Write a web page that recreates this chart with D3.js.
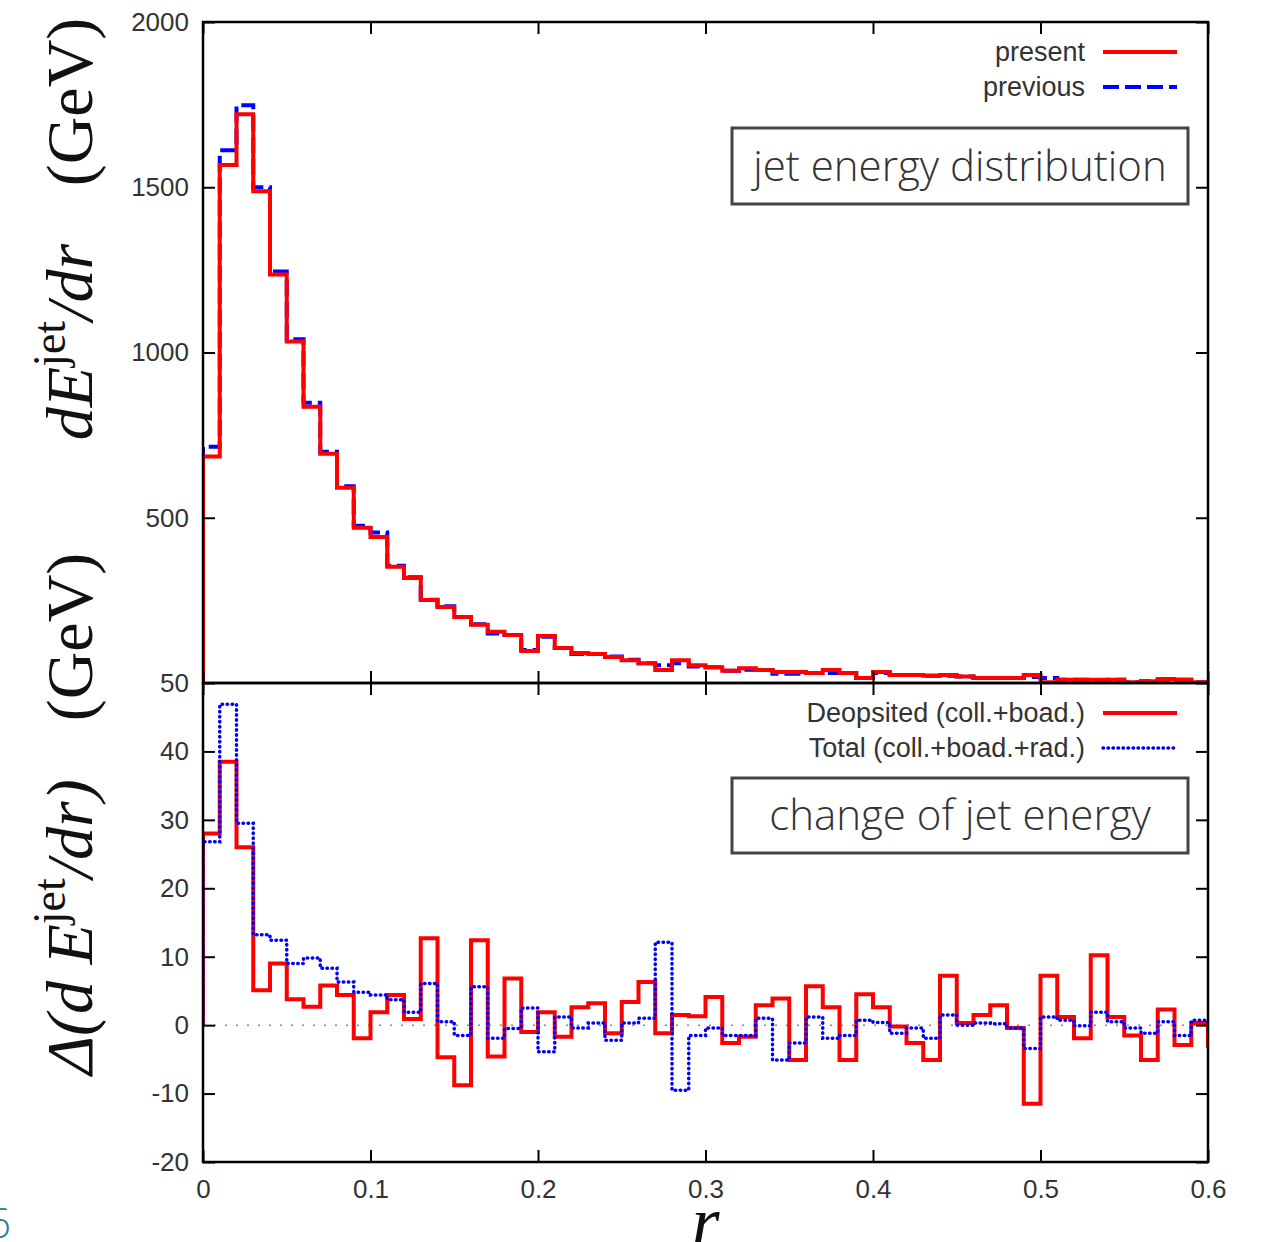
<!DOCTYPE html>
<html>
<head>
<meta charset="utf-8">
<script src="https://cdn.jsdelivr.net/npm/d3@7"></script>
<style>
  body { margin: 0; background: #fff; }
  .tick text { font-family: "Liberation Sans", Arial, sans-serif; font-size: 26px; fill: #333; }
  .tick line { stroke: #000; stroke-width: 2; }
</style>
</head>
<body>
<svg id="chart"></svg>
<script>
// bin width in r, histogram starts at r = 0 (last value lies just past 0.6 and is clipped)
const binWidth = 0.01;

// upper panel: dE^jet/dr (GeV)
const present = [685, 1567, 1721, 1488, 1236, 1033, 836, 694, 591, 470,
  442, 352, 318, 251, 230, 200, 176, 155, 145, 97,
  142, 106, 91, 88, 79, 69, 60, 39, 69, 54,
  48, 37, 45, 39, 33, 33, 30, 39, 30, 15,
  33, 24, 24, 22, 24, 20, 15, 15, 15, 24,
  2, 10, 10, 10, 10, 2, 5, 12, 10, 2, 2];
const previous = [715, 1612, 1748, 1500, 1245, 1040, 848, 700, 595, 476,
  455, 355, 320, 252, 232, 200, 178, 150, 145, 100,
  140, 106, 88, 88, 80, 70, 60, 54, 60, 50,
  48, 37, 40, 39, 28, 28, 30, 30, 30, 15,
  30, 24, 24, 22, 22, 20, 15, 15, 15, 18,
  15, 10, 10, 8, 10, 2, 5, 10, 10, 2, 2];

// lower panel: change of dE^jet/dr (GeV)
const deposited = [28.0, 38.5, 26.0, 5.1, 9.0, 3.8, 2.7, 5.8, 4.4, -1.9,
  1.9, 4.4, 0.9, 12.7, -4.7, -8.8, 12.4, -4.6, 6.8, -1.0,
  1.9, -1.7, 2.6, 3.2, -1.2, 3.4, 6.3, -1.2, 1.5, 1.3,
  4.1, -2.6, -1.7, 2.9, 3.9, -5.1, 5.7, 2.6, -5.1, 4.5,
  2.6, -0.2, -2.6, -5.1, 7.2, 0.3, 1.5, 2.9, -0.4, -11.5,
  7.2, 1.2, -1.9, 10.2, 1.2, -1.5, -5.1, 2.3, -2.9, 0.3, -3.0];
const total = [26.8, 46.9, 29.5, 13.2, 12.4, 9.0, 9.8, 8.3, 6.3, 4.8,
  4.4, 3.7, 1.9, 6.1, 0.5, -1.5, 5.6, -1.9, -0.5, 2.5,
  -3.9, 1.2, -0.4, 0.3, -2.2, 0.3, 1.0, 12.1, -9.5, -1.5,
  -0.4, -1.5, -1.5, 1.0, -5.1, -2.6, 1.2, -1.9, -1.5, 0.7,
  0.4, -1.2, -0.4, -1.9, 1.5, 0.0, 0.3, 0.2, -0.4, -3.4,
  1.2, 0.7, -0.1, 1.9, 0.5, -0.4, -1.2, 0.5, -1.5, 0.7, 0.0];

const xTicks = [0, 0.1, 0.2, 0.3, 0.4, 0.5, 0.6];
const topTicks = [500, 1000, 1500, 2000];
const botTicks = [-20, -10, 0, 10, 20, 30, 40, 50];

const width = 1261, height = 1242;
const L = 203, R = 1208, T = 22, M = 683, B = 1162;

const svg = d3.select("#chart").attr("width", width).attr("height", height);

const x = d3.scaleLinear().domain([0, 0.6]).range([L, R]);
const yTop = d3.scaleLinear().domain([0, 2000]).range([M, T]);
const yBot = d3.scaleLinear().domain([-20, 50]).range([B, M]);

const defs = svg.append("defs");
defs.append("clipPath").attr("id", "clipTop").append("rect")
  .attr("x", L).attr("y", T - 4).attr("width", R - L).attr("height", M - T + 4);
defs.append("clipPath").attr("id", "clipBot").append("rect")
  .attr("x", L).attr("y", M).attr("width", R - L).attr("height", B - M);

// step points: start at baseline at r=0, then one point per bin edge
function steps(vals) {
  const pts = [[0, 0]];
  vals.forEach((v, i) => pts.push([i * binWidth, v]));
  pts.push([vals.length * binWidth, vals[vals.length - 1]]);
  return pts;
}
const lineTop = d3.line().x(d => x(d[0])).y(d => yTop(d[1])).curve(d3.curveStepAfter);
const lineBot = d3.line().x(d => x(d[0])).y(d => yBot(d[1])).curve(d3.curveStepAfter);

// zero line in lower panel
svg.append("line")
  .attr("x1", x(0)).attr("x2", x(0.6)).attr("y1", yBot(0)).attr("y2", yBot(0))
  .attr("stroke", "#888").attr("stroke-width", 1.5).attr("stroke-dasharray", "2,9");

// upper histograms
const gTop = svg.append("g").attr("clip-path", "url(#clipTop)");
gTop.append("path").attr("d", lineTop(steps(previous)))
  .attr("fill", "none").attr("stroke", "#0000ff").attr("stroke-width", 4)
  .attr("stroke-dasharray", "16,6");
gTop.append("path").attr("d", lineTop(steps(present)))
  .attr("fill", "none").attr("stroke", "#ff0000").attr("stroke-width", 4);

// lower histograms
const dotted = "0.5,4.5";
const gBot = svg.append("g").attr("clip-path", "url(#clipBot)");
gBot.append("path").attr("d", lineBot(steps(deposited)))
  .attr("fill", "none").attr("stroke", "#ff0000").attr("stroke-width", 4);
gBot.append("path").attr("d", lineBot(steps(total)))
  .attr("fill", "none").attr("stroke", "#0000ff").attr("stroke-width", 3.5)
  .attr("stroke-linecap", "round").attr("stroke-dasharray", dotted);

// axes (ticks point inward on every side)
const fmt = d => String(d);
function ax(g) { g.select(".domain").remove(); }
svg.append("g").attr("transform", `translate(${L},0)`)
  .call(d3.axisLeft(yTop).tickValues(topTicks).tickSize(-12).tickPadding(14).tickFormat(fmt)).call(ax);
svg.append("g").attr("transform", `translate(${R},0)`)
  .call(d3.axisRight(yTop).tickValues(topTicks).tickSize(-12).tickFormat("")).call(ax);
svg.append("g").attr("transform", `translate(0,${T})`)
  .call(d3.axisTop(x).tickValues(xTicks).tickSize(-12).tickFormat("")).call(ax);
svg.append("g").attr("transform", `translate(0,${M})`)
  .call(d3.axisBottom(x).tickValues(xTicks).tickSize(-12).tickFormat("")).call(ax);
svg.append("g").attr("transform", `translate(0,${M})`)
  .call(d3.axisTop(x).tickValues(xTicks).tickSize(-12).tickFormat("")).call(ax);
svg.append("g").attr("transform", `translate(${L},0)`)
  .call(d3.axisLeft(yBot).tickValues(botTicks).tickSize(-12).tickPadding(14).tickFormat(fmt)).call(ax);
svg.append("g").attr("transform", `translate(${R},0)`)
  .call(d3.axisRight(yBot).tickValues(botTicks).tickSize(-12).tickFormat("")).call(ax);
svg.append("g").attr("transform", `translate(0,${B})`)
  .call(d3.axisBottom(x).tickValues(xTicks).tickSize(-12).tickPadding(18).tickFormat(fmt)).call(ax);

// frames
[[T, M], [M, B]].forEach(([a, b]) => {
  svg.append("rect").attr("x", L).attr("y", a).attr("width", R - L).attr("height", b - a)
    .attr("fill", "none").attr("stroke", "#000").attr("stroke-width", 2.5);
});

// legends
const legFont = '"Liberation Sans", Arial, sans-serif';
function legend(y, label, color, dash, w, cap) {
  svg.append("text").attr("x", 1085).attr("y", y).attr("dy", "0.35em")
    .attr("text-anchor", "end").attr("font-family", legFont).attr("font-size", 27)
    .attr("fill", "#333").text(label);
  svg.append("line").attr("x1", 1103).attr("x2", 1177).attr("y1", y).attr("y2", y)
    .attr("stroke", color).attr("stroke-width", w).attr("stroke-dasharray", dash)
    .attr("stroke-linecap", cap);
}
legend(52, "present", "#ff0000", null, 4, "butt");
legend(87, "previous", "#0000ff", "16,6", 4, "butt");
legend(713, "Deopsited (coll.+boad.)", "#ff0000", null, 4, "butt");
legend(748, "Total (coll.+boad.+rad.)", "#0000ff", dotted, 3.5, "round");

// annotation boxes
function box(y0, y1, label) {
  svg.append("rect").attr("x", 732).attr("y", y0).attr("width", 456).attr("height", y1 - y0)
    .attr("fill", "#fff").attr("stroke", "#444").attr("stroke-width", 3);
  svg.append("text").attr("x", 960).attr("y", (y0 + y1) / 2).attr("dy", "0.35em")
    .attr("text-anchor", "middle").attr("font-family", '"Open Sans", Lato, sans-serif')
    .attr("font-weight", 300).attr("font-size", 42).attr("fill", "#333").text(label);
}
box(128, 204, "jet energy distribution");
box(778, 853, "change of jet energy");

// axis titles
const serif = '"Liberation Serif", "DejaVu Serif", serif';
function rotText(cx, cy, size) {
  return svg.append("text").attr("transform", `translate(${cx},${cy}) rotate(-90)`)
    .attr("text-anchor", "middle").attr("font-family", serif).attr("font-size", size).attr("fill", "#111");
}
rotText(92, 102, 66).text("(GeV)");
const t1 = rotText(92, 342, 66);
t1.append("tspan").attr("font-style", "italic").text("dE");
t1.append("tspan").attr("font-size", 46).attr("dy", -27).text("jet");
t1.append("tspan").attr("font-style", "italic").attr("dy", 27).text("/dr");

rotText(92, 637, 66).text("(GeV)");
const t2 = rotText(92, 927, 66);
t2.append("tspan").attr("font-style", "italic").text("\u0394(d E");
t2.append("tspan").attr("font-size", 46).attr("dy", -27).text("jet");
t2.append("tspan").attr("font-style", "italic").attr("dy", 27).text("/dr)");

svg.append("text").attr("x", x(0.3)).attr("y", 1246).attr("text-anchor", "middle")
  .attr("font-family", serif).attr("font-style", "italic").attr("font-size", 72)
  .attr("fill", "#111").text("r");

// page number fragment at the lower left
svg.append("text").attr("x", -13).attr("y", 1238)
  .attr("font-family", '"Open Sans", sans-serif').attr("font-weight", 300)
  .attr("font-size", 42).attr("fill", "#2f7f93").text("6");
</script>
</body>
</html>
